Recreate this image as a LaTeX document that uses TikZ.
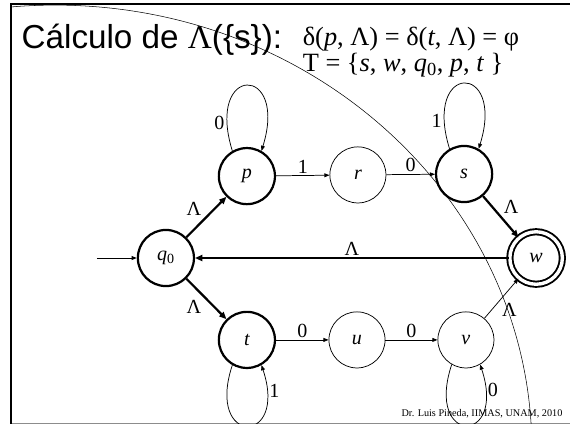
\documentclass[tikz,border=0pt]{standalone}
\usepackage{fontspec}
\setmainfont{Liberation Serif}
\setsansfont{Liberation Sans}
\usetikzlibrary{arrows.meta, positioning}
\definecolor{FrameGray}{HTML}{8C8C8C}

\begin{document}
\begin{tikzpicture}[
        font=\fontsize{19}{21}\selectfont,
        st/.style={circle, draw, line width=0.7pt, minimum size=1.87cm,
                   inner sep=0pt, font=\fontsize{19}{21}\selectfont\itshape},
        tst/.style={st, line width=2.1pt},
        fin/.style={st, line width=1.8pt, double, double distance=3.2pt,
                    minimum size=1.75cm},
        a/.style={-{Triangle[length=1.7mm, width=1.3mm]}, line width=0.7pt},
        ta/.style={-{Triangle[length=2.4mm, width=2mm]}, line width=2.1pt},
        lbl/.style={font=\fontsize{19}{21}\selectfont, inner sep=2pt},
      ]
        \useasboundingbox (0,0) rectangle (19,-14.13);
        % marco de la lámina
        \draw[FrameGray, line width=0.8pt] (0.37,-14.1) -- (19,-14.1);
        \draw[line width=2.4pt] (0.37,-14.13) -- (0.37,-0.13) -- (19,-0.13);
        \begin{scope}
          \clip (0.37,-0.13) rectangle (19,-14.13);
          \draw[line width=0.5pt] (1.83,-15) ellipse (15.9 and 14.83);
        \end{scope}
        % encabezado
        \node[anchor=base west, font=\sffamily\fontsize{31.5}{34}\selectfont] (tit)
          at (0.6,-1.62) {Cálculo de {\rmfamily Λ}(\{s\}):};
        \node[anchor=base west, font=\fontsize{25}{27}\selectfont] (del)
          at (9.97,-1.52) {δ(\textit{p}, Λ) = δ(\textit{t}, Λ) = φ};
        \node[anchor=base west, font=\fontsize{25}{27}\selectfont] (tt)
          at (9.97,-2.38) {T = \{\textit{s}, \textit{w}, \textit{q}\textsubscript{0}, \textit{p}, \textit{t} \}};
        % estados
        \node[tst] (q0) at (5.53,-8.6)   {q\textsubscript{\upshape 0}};
        \node[tst] (p)  at (8.23,-5.87)  {p};
        \node[st]  (r)  at (11.93,-5.83) {r};
        \node[tst] (s)  at (15.47,-5.8)  {s};
        \node[fin] (w)  at (17.87,-8.6)  {w};
        \node[tst] (t)  at (8.23,-11.33) {t};
        \node[st]  (u)  at (11.9,-11.33) {u};
        \node[st]  (v)  at (15.53,-11.33) {v};
        \coordinate (ini) at (3.23,-8.6);
        % transiciones
        \draw[a] (ini) -- (q0);
        \draw[ta] (q0) -- node[above left, lbl, pos=0.45]{Λ} (p);
        \draw[ta] (q0) -- node[below left, lbl, pos=0.45]{Λ} (t);
        \draw[a] (p) -- node[above, lbl]{1} (r);
        \draw[a] (r) -- node[above, lbl]{0} (s);
        \draw[ta] (s) -- node[above right, lbl]{Λ} (w);
        \draw[ta] (w) -- node[above, lbl, inner sep=1pt]{Λ} (q0);
        \draw[a] (t) -- node[above, lbl]{0} (u);
        \draw[a] (u) -- node[above, lbl]{0} (v);
        \draw[a] (v) -- node[below right, lbl, pos=0.45]{Λ} (w);
        % lazos
        \draw[a] (p.120) .. controls +(-0.9,2.9) and +(0.9,2.9) .. node[pos=0.12, left, lbl]{0} (p.60);
        \draw[a] (s.120) .. controls +(-0.9,2.9) and +(0.9,2.9) .. node[pos=0.12, left, lbl]{1} (s.60);
        \draw[a] (t.-120) .. controls +(-0.9,-2.7) and +(0.9,-2.7) .. node[pos=0.88, right, lbl]{1} (t.-60);
        \draw[a] (v.-120) .. controls +(-0.9,-2.7) and +(0.9,-2.7) .. node[pos=0.88, right, lbl]{0} (v.-60);
        % pie
        \node[anchor=base east, font=\fontsize{9.7}{11}\selectfont] (pie)
          at (18.87,-13.87) {Dr. Luis Pineda, IIMAS, UNAM, 2010};
      \end{tikzpicture}
\end{document}
